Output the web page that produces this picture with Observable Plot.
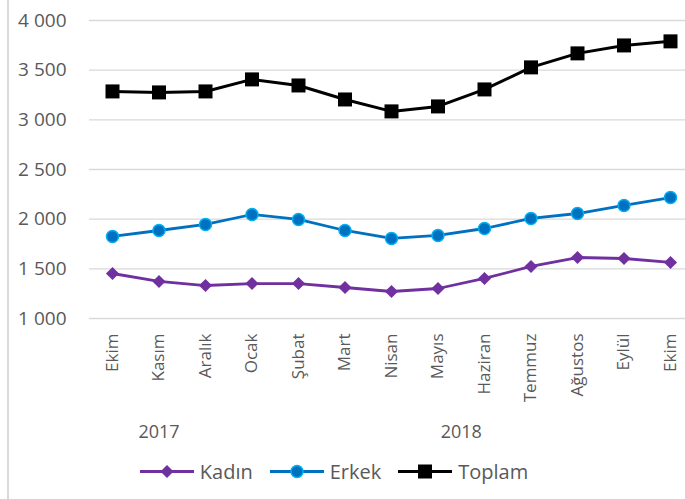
<!DOCTYPE html>
<html>
<head>
<meta charset="utf-8">
<script src="https://cdn.jsdelivr.net/npm/d3@7"></script>
<script src="https://cdn.jsdelivr.net/npm/@observablehq/plot@0.6"></script>
<style>
  html, body { margin: 0; padding: 0; background: #fff; }
  #wrap { position: relative; width: 685px; height: 499px; overflow: hidden; font-family: "Open Sans", sans-serif; }
  #border { position: absolute; left: 7px; top: 0; width: 2px; height: 499px; background: #d9d9d9; }
  #legend { position: absolute; left: 0; top: 459px; width: 685px; height: 24px; display: flex; align-items: center; justify-content: center; color: #595959; font-size: 20px; }
  .item { display: flex; align-items: center; margin-right: 17px; }
  .item svg { margin-right: 6px; }
</style>
</head>
<body>
<div id="wrap"><div id="border"></div><div id="chart"></div><div id="legend"></div></div>
<script>
const months = ["Ekim","Kasım","Aralık","Ocak","Şubat","Mart","Nisan","Mayıs","Haziran","Temmuz","Ağustos","Eylül","Ekim"];
const yearLabels = ["2017","2018"];
const yearStart = [0, 3];
const yearEnd = [2, 12];
const kadin  = [1453,1373,1332,1352,1352,1312,1272,1302,1403,1524,1614,1604,1564];
const erkek  = [1826,1886,1947,2047,1997,1886,1806,1836,1906,2007,2057,2138,2218];
const toplam = [3286,3276,3286,3407,3346,3205,3085,3135,3306,3528,3669,3749,3790];
const yTicks = [1000,1500,2000,2500,3000,3500,4000];
const seriesNames = ["Kadın","Erkek","Toplam"];

const rows = months.map((m, i) => ({i, m, kadin: kadin[i], erkek: erkek[i], toplam: toplam[i]}));
const fmt = n => d3.format(",")(n).replace(/,/g, " ");

const chart = Plot.plot({
  width: 685,
  height: 459,
  marginLeft: 89,
  marginRight: 0,
  marginTop: 20,
  marginBottom: 141,
  style: {fontFamily: "Open Sans, sans-serif", color: "#595959", background: "transparent"},
  x: {type: "linear", domain: [0, months.length - 1], range: [112, 670], label: null},
  y: {domain: [1000, 4000], label: null},
  marks: [
    Plot.gridY(yTicks, {stroke: "#d9d9d9", strokeOpacity: 1, strokeWidth: 1.3}),
    Plot.axisY(yTicks, {tickSize: 0, tickPadding: 23, tickFormat: fmt, fontSize: 19, fill: "#595959", label: null}),
    Plot.axisX(months.map((m, i) => i), {tickSize: 0, tickPadding: 15, tickRotate: -90, tickFormat: i => months[i], fontSize: 17, fill: "#595959", label: null}),
    Plot.text(yearLabels, {x: (d, i) => (yearStart[i] + yearEnd[i]) / 2, frameAnchor: "bottom", dy: 119, text: d => d, fontSize: 18, fill: "#595959"}),
    Plot.line(rows, {x: "i", y: "kadin", stroke: "#7030a0", strokeWidth: 2.8}),
    Plot.dot(rows, {x: "i", y: "kadin", symbol: "diamond2", r: 5.9, fill: "#7030a0", stroke: "none"}),
    Plot.line(rows, {x: "i", y: "erkek", stroke: "#0070c0", strokeWidth: 2.8}),
    Plot.dot(rows, {x: "i", y: "erkek", r: 6, fill: "#0070c0", stroke: "#00b0f0", strokeWidth: 1.5}),
    Plot.line(rows, {x: "i", y: "toplam", stroke: "#000000", strokeWidth: 3}),
    Plot.dot(rows, {x: "i", y: "toplam", symbol: "square", r: 7.9, fill: "#000000", stroke: "none"})
  ]
});
document.getElementById("chart").appendChild(chart);

// legend
const legendStyles = [
  {color: "#7030a0", marker: `<path d="M27,4 L33.5,10.5 L27,17 L20.5,10.5 Z" fill="#7030a0"/>`},
  {color: "#0070c0", marker: `<circle cx="27" cy="10.5" r="6" fill="#0070c0" stroke="#00b0f0" stroke-width="1.5"/>`},
  {color: "#000000", marker: `<rect x="20" y="3.5" width="14" height="14" fill="#000"/>`}
];
const legend = document.getElementById("legend");
legend.style.paddingRight = "30px";
seriesNames.forEach((name, k) => {
  const s = legendStyles[k];
  const el = document.createElement("div");
  el.className = "item";
  el.innerHTML = `<svg width="54" height="21"><line x1="0" x2="54" y1="10.5" y2="10.5" stroke="${s.color}" stroke-width="3"/>${s.marker}</svg><span>${name}</span>`;
  legend.appendChild(el);
});
</script>
</body>
</html>
